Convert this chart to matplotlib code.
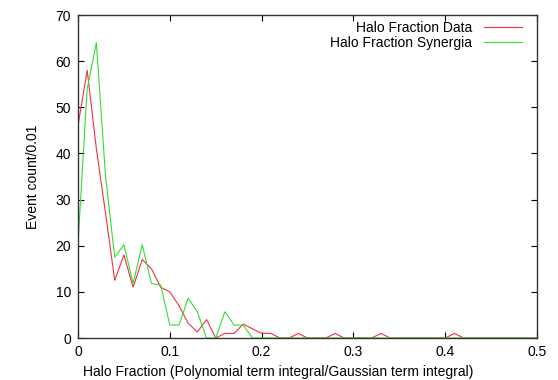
import matplotlib
matplotlib.use('Agg')
import matplotlib.pyplot as plt

plt.rcParams['font.family'] = ['Liberation Sans', 'DejaVu Sans']

# bin centres (halo fraction)
bins = [0.00, 0.01, 0.02, 0.03, 0.04, 0.05, 0.06, 0.07, 0.08, 0.09,
        0.10, 0.11, 0.12, 0.13, 0.14, 0.15, 0.16, 0.17, 0.18, 0.19,
        0.20, 0.21, 0.22, 0.23, 0.24, 0.25, 0.26, 0.27, 0.28, 0.29,
        0.30, 0.31, 0.32, 0.33, 0.34, 0.35, 0.36, 0.37, 0.38, 0.39,
        0.40, 0.41, 0.42, 0.43, 0.44, 0.45, 0.46, 0.47, 0.48, 0.49, 0.50]

halo_data = [46, 58, 41, 27, 12.5, 18, 11, 17, 15, 11,
             10, 7, 3.2, 1.3, 4, 0, 1, 1, 3, 2,
             1, 1, 0, 0, 1, 0, 0, 0, 1, 0,
             0, 0, 0, 1, 0, 0, 0, 0, 0, 0,
             0, 1, 0, 0, 0, 0, 0, 0, 0, 0, 0]

halo_synergia = [20.5, 54, 64, 35, 17.5, 20.2, 11.8, 20.2, 11.8, 11.5,
                 2.8, 2.8, 8.6, 5.7, 0, 0, 5.7, 2.8, 2.8, 0,
                 0, 0, 0, 0, 0, 0, 0, 0, 0, 0,
                 0, 0, 0, 0, 0, 0, 0, 0, 0, 0,
                 0, 0, 0, 0, 0, 0, 0, 0, 0, 0, 0]

xticks = [0, 0.1, 0.2, 0.3, 0.4, 0.5]
xticklabels = ['0', '0.1', '0.2', '0.3', '0.4', '0.5']
yticks = [0, 10, 20, 30, 40, 50, 60, 70]

fig = plt.figure(figsize=(5.58, 3.80), dpi=100)
ax = fig.add_axes([0.1398, 0.1105, 0.8226, 0.85])

ax.plot(bins, halo_data, color='#ee3344', lw=0.8, label='Halo Fraction Data')
ax.plot(bins, halo_synergia, color='#33dd33', lw=0.8, label='Halo Fraction Synergia')

ax.set_xlim(0, 0.5)
ax.set_ylim(0, 70)
ax.set_xticks(xticks)
ax.set_xticklabels(xticklabels)
ax.set_yticks(yticks)
ax.tick_params(direction='in', top=True, right=True, length=4, width=0.8,
               labelsize=10, pad=5)
for s in ax.spines.values():
    s.set_linewidth(1.0)
    s.set_color('#333333')

ax.set_xlabel('Halo Fraction (Polynomial term integral/Gaussian term integral)',
              fontsize=10)
ax.xaxis.set_label_coords(0.436, -0.085)
ax.set_ylabel('Event count/0.01', fontsize=10, labelpad=11)

leg = ax.legend(loc='upper right', bbox_to_anchor=(0.979, 1.0),
                frameon=False, fontsize=10, markerfirst=False,
                handlelength=2.7, borderaxespad=0, labelspacing=0.1,
                handletextpad=0.9)
for t in leg.get_texts():
    t.set_ha('right')
leg._legend_box.align = 'right'

fig.savefig('out.png', dpi=100)
